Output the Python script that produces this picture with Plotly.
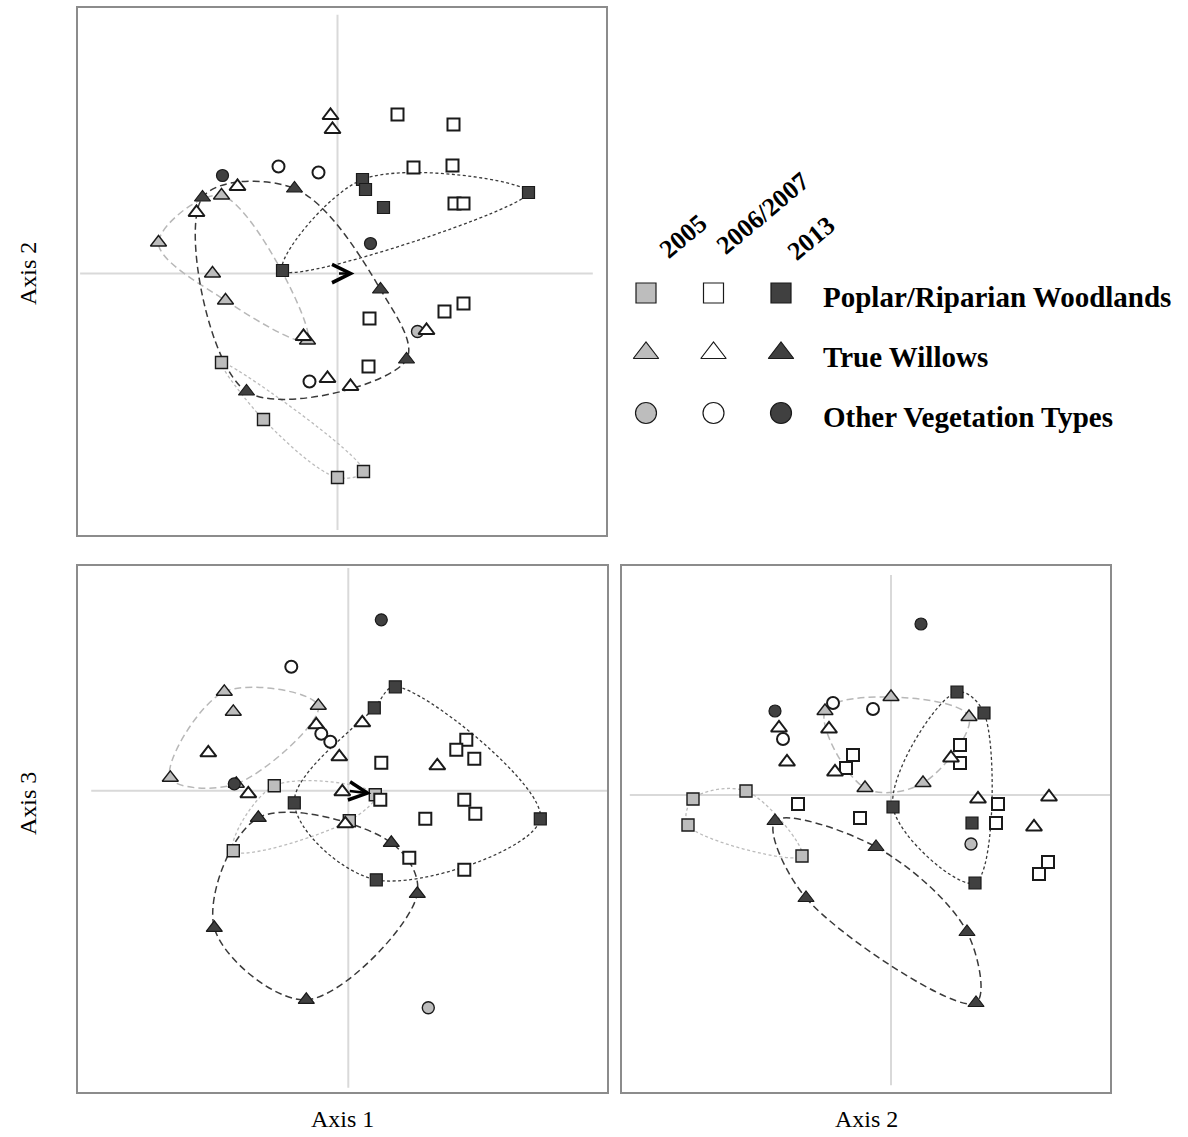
import plotly.graph_objects as go

W, H = 1188, 1137

YEARS = ["2005", "2006/2007", "2013"]
TYPES = ["Poplar/Riparian Woodlands", "True Willows", "Other Vegetation Types"]

# ---- site scores: Axis 1 (x) vs Axis 2 (y) ----
p12_pop05 = [(-1.16, -0.89), (-0.74, -1.46), (0.00, -2.04), (0.26, -1.98)]
p12_wil05 = [(-1.79, 0.31), (-1.16, 0.78), (-1.25, 0.00), (-1.12, -0.27), (-0.30, -0.67)]
p12_oth05 = [(0.80, -0.58)]
p12_pop06 = [(0.60, 1.59), (1.16, 1.49), (0.76, 1.06), (1.15, 1.08), (1.17, 0.70),
             (1.26, 0.70), (0.32, -0.45), (1.07, -0.38), (1.26, -0.30), (0.31, -0.93)]
p12_wil06 = [(-0.07, 1.58), (-0.05, 1.44), (-1.00, 0.87), (-1.41, 0.61),
             (-0.34, -0.63), (-0.10, -1.05), (0.13, -1.13), (0.89, -0.57)]
p12_oth06 = [(-0.59, 1.07), (-0.19, 1.01), (-0.28, -1.08)]
p12_pop13 = [(-0.55, 0.03), (0.25, 0.94), (0.28, 0.84), (0.46, 0.66), (1.91, 0.81)]
p12_wil13 = [(-0.43, 0.85), (-1.35, 0.76), (0.43, -0.16), (0.69, -0.86), (-0.91, -1.18)]
p12_oth13 = [(-1.15, 0.98), (0.33, 0.30)]
shift12 = (0.19, 0.00)

# ---- site scores: Axis 1 (x) vs Axis 3 (y) ----
p13_pop05 = [(-0.74, 0.05), (0.01, -0.30), (-1.15, -0.60), (0.27, -0.04)]
p13_wil05 = [(-1.24, 0.99), (-1.15, 0.79), (-0.30, 0.85), (-1.78, 0.13), (-1.12, 0.07)]
p13_oth05 = [(0.80, -2.17)]
p13_pop06 = [(1.18, 0.51), (1.08, 0.41), (1.26, 0.32), (0.33, 0.28), (0.32, -0.09),
             (1.16, -0.09), (1.27, -0.23), (0.77, -0.28), (0.61, -0.67), (1.16, -0.79)]
p13_wil06 = [(-0.32, 0.66), (-0.09, 0.34), (-1.00, -0.03), (-0.06, -0.01),
             (0.14, 0.68), (0.89, 0.25), (-0.03, -0.33), (-1.40, 0.38)]
p13_oth06 = [(-0.57, 1.24), (-0.27, 0.57), (-0.18, 0.49)]
p13_pop13 = [(0.47, 1.04), (0.26, 0.83), (-0.54, -0.12), (1.92, -0.28), (0.28, -0.89)]
p13_wil13 = [(-0.90, -0.27), (0.43, -0.52), (0.69, -1.03), (-1.34, -1.37), (-0.42, -2.09)]
p13_oth13 = [(0.33, 1.71), (-1.14, 0.07)]
shift13 = (0.25, -0.03)

# ---- site scores: Axis 2 (x) vs Axis 3 (y) ----
p23_pop05 = [(-1.45, 0.04), (-1.98, -0.04), (-2.03, -0.30), (-0.89, -0.61)]
p23_wil05 = [(-0.66, 0.84), (0.00, 0.98), (0.78, 0.78), (0.32, 0.12), (-0.26, 0.07)]
p23_oth05 = [(0.80, -0.49)]
p23_pop06 = [(-0.38, 0.40), (-0.45, 0.27), (-0.93, -0.09), (-0.31, -0.23), (0.69, 0.50),
             (0.69, 0.32), (1.07, -0.09), (1.05, -0.28), (1.57, -0.67), (1.48, -0.79)]
p23_wil06 = [(-1.12, 0.67), (-1.04, 0.33), (-0.62, 0.66), (-0.56, 0.23),
             (0.60, 0.37), (0.87, -0.04), (1.58, -0.02), (1.43, -0.32)]
p23_oth06 = [(-1.08, 0.56), (-0.58, 0.92), (-0.18, 0.86)]
p23_pop13 = [(0.66, 1.03), (0.93, 0.82), (0.02, -0.12), (0.81, -0.28), (0.84, -0.88)]
p23_wil13 = [(-1.16, -0.26), (-0.15, -0.52), (-0.85, -1.03), (0.76, -1.37), (0.85, -2.08)]
p23_oth13 = [(0.30, 1.71), (-1.16, 0.84)]

# ---- styling ----
SYMBOL = {TYPES[0]: "square", TYPES[1]: "triangle-up", TYPES[2]: "circle"}
SIZE = {"square": 12, "triangle-up": 14, "circle": 12}
LEG_SIZE = {"square": 20, "triangle-up": 22, "circle": 21}
FILL = {YEARS[0]: "#bdbdbd", YEARS[1]: "#ffffff", YEARS[2]: "#404040"}
EDGE_W = {YEARS[0]: 1.4, YEARS[1]: 2.0, YEARS[2]: 1.2}
HULL_STYLE = {
    (YEARS[0], TYPES[0]): dict(color="#bcbcbc", width=1.3, dash="3px,2.5px"),
    (YEARS[0], TYPES[1]): dict(color="#b8b8b8", width=1.5, dash="7px,4px"),
    (YEARS[2], TYPES[0]): dict(color="#3a3a3a", width=1.3, dash="3px,2.5px"),
    (YEARS[2], TYPES[1]): dict(color="#3a3a3a", width=1.5, dash="7px,4px"),
}
SERIF = "Liberation Serif, Times New Roman, serif"
UNIT = 100.0  # pixels per score unit


def convex_hull(points):
    pts = sorted(set(points))
    if len(pts) < 3:
        return pts

    def cross(o, a, b):
        return (a[0] - o[0]) * (b[1] - o[1]) - (a[1] - o[1]) * (b[0] - o[0])

    lower, upper = [], []
    for p in pts:
        while len(lower) >= 2 and cross(lower[-2], lower[-1], p) <= 0:
            lower.pop()
        lower.append(p)
    for p in reversed(pts):
        while len(upper) >= 2 and cross(upper[-2], upper[-1], p) <= 0:
            upper.pop()
        upper.append(p)
    return lower[:-1] + upper[:-1]


def groups(prefix):
    g = globals()
    out = {}
    for yr, ycode in zip(YEARS, ["05", "06", "13"]):
        for t, tcode in zip(TYPES, ["pop", "wil", "oth"]):
            out[(yr, t)] = g[f"{prefix}_{tcode}{ycode}"]
    return out


# panel: axis ids, box (left, right, top, bottom) px, origin px,
# crosshair extents as domain fractions (h: x0,x1 ; v: y0,y1)
PANELS = [
    dict(pre="p12", xa="x", ya="y", box=(78, 606, 8, 535), org=(337.5, 273.5),
         h=(0.004, 0.975), v=(0.0095, 0.987), shift=shift12),
    dict(pre="p13", xa="x2", ya="y2", box=(78, 607, 566, 1092), org=(348.3, 790.8),
         h=(0.025, 1.0), v=(0.008, 0.996), shift=shift13),
    dict(pre="p23", xa="x3", ya="y3", box=(622, 1110, 566, 1092), org=(891, 795),
         h=(0.016, 1.0), v=(0.013, 0.983), shift=None),
]

fig = go.Figure()
layout = dict(
    width=W, height=H, margin=dict(l=0, r=0, t=0, b=0),
    paper_bgcolor="white", plot_bgcolor="rgba(0,0,0,0)", showlegend=False,
    shapes=[], annotations=[],
)

for i, P in enumerate(PANELS):
    n = "" if i == 0 else str(i + 1)
    l, r, t, b = P["box"]
    ox, oy = P["org"]
    common = dict(showgrid=False, zeroline=False, showticklabels=False, ticks="",
                  showline=True, mirror=True, linecolor="#8c8c8c", linewidth=2,
                  fixedrange=True)
    layout[f"xaxis{n}"] = dict(domain=[l / W, r / W],
                               range=[(l - ox) / UNIT, (r - ox) / UNIT],
                               anchor=f"y{n}", **common)
    layout[f"yaxis{n}"] = dict(domain=[1 - b / H, 1 - t / H],
                               range=[(oy - b) / UNIT, (oy - t) / UNIT],
                               anchor=f"x{n}", **common)
    # crosshair through the origin
    layout["shapes"].append(dict(type="line", layer="below",
                                 xref=f"{P['xa']} domain", yref=P["ya"],
                                 x0=P["h"][0], x1=P["h"][1], y0=0, y1=0,
                                 line=dict(color="#d9d9d9", width=2)))
    layout["shapes"].append(dict(type="line", layer="below",
                                 xref=P["xa"], yref=f"{P['ya']} domain",
                                 x0=0, x1=0, y0=P["v"][0], y1=P["v"][1],
                                 line=dict(color="#d9d9d9", width=2)))

    grp = groups(P["pre"])
    # smoothed convex hulls for 2005 and 2013 woodland / willow groups
    for key, style in HULL_STYLE.items():
        hv = convex_hull(grp[key])
        hv = hv + [hv[0]]
        fig.add_trace(go.Scatter(
            x=[p[0] for p in hv], y=[p[1] for p in hv], mode="lines",
            line=dict(shape="spline", smoothing=1.0, **style),
            xaxis=P["xa"], yaxis=P["ya"], hoverinfo="skip"))
    # site markers
    for yr in YEARS:
        for tp in TYPES:
            pts = grp[(yr, tp)]
            sym = SYMBOL[tp]
            fig.add_trace(go.Scatter(
                x=[p[0] for p in pts], y=[p[1] for p in pts], mode="markers",
                marker=dict(symbol=sym, size=SIZE[sym], color=FILL[yr],
                            line=dict(color="#1a1a1a", width=EDGE_W[yr])),
                xaxis=P["xa"], yaxis=P["ya"], name=f"{tp} {yr}"))
    # shift vector
    if P["shift"] is not None:
        layout["annotations"].append(dict(
            x=P["shift"][0], y=P["shift"][1], ax=0, ay=0,
            xref=P["xa"], yref=P["ya"], axref=P["xa"], ayref=P["ya"],
            text="", showarrow=True, arrowhead=5, arrowsize=1.45,
            arrowwidth=2.5, arrowcolor="black", standoff=2))

# axis titles
title_font = dict(family=SERIF, size=24, color="black")
for txt, px, py, ang in [("Axis 2", 28, 274, -90), ("Axis 3", 28, 804, -90),
                         ("Axis 1", 342, 1119, 0), ("Axis 2", 866, 1119, 0)]:
    layout["annotations"].append(dict(text=txt, x=px / W, y=1 - py / H,
                                      xref="paper", yref="paper", showarrow=False,
                                      textangle=ang, font=title_font,
                                      xanchor="center", yanchor="middle"))

# legend grid: columns = years, rows = vegetation types
COL0, COLSTEP, ROW0, ROWSTEP = 646, 67.5, 293, 60
layout["xaxis4"] = dict(domain=[(COL0 - 0.5 * COLSTEP) / W, (COL0 + 8 * COLSTEP) / W],
                        range=[-0.5, 8], visible=False, fixedrange=True, anchor="y4")
layout["yaxis4"] = dict(domain=[1 - (ROW0 + 3 * ROWSTEP) / H, 1 - (ROW0 - ROWSTEP) / H],
                        range=[3, -1], visible=False, fixedrange=True, anchor="x4")
for r, tp in enumerate(TYPES):
    for c, yr in enumerate(YEARS):
        sym = SYMBOL[tp]
        fig.add_trace(go.Scatter(
            x=[c], y=[r], mode="markers", xaxis="x4", yaxis="y4",
            marker=dict(symbol=sym, size=LEG_SIZE[sym], color=FILL[yr],
                        line=dict(color="#1a1a1a", width=1.2)),
            hoverinfo="skip"))
    layout["annotations"].append(dict(
        text=tp, x=len(YEARS) - 1, y=r, xref="x4", yref="y4", xshift=40, yshift=-4,
        xanchor="left", yanchor="middle", showarrow=False,
        font=dict(family=SERIF, size=29, color="black", weight="bold")))

header_offsets = [(37, 57), (49, 80), (30, 55)]
for c, yr in enumerate(YEARS):
    dx, dy = header_offsets[c]
    layout["annotations"].append(dict(
        text=yr, x=c, y=0, xref="x4", yref="y4", xshift=dx, yshift=dy,
        xanchor="center", yanchor="middle", showarrow=False, textangle=-40,
        font=dict(family=SERIF, size=26, color="black", weight="bold")))

fig.update_layout(**layout)
fig.write_html("out.html")
